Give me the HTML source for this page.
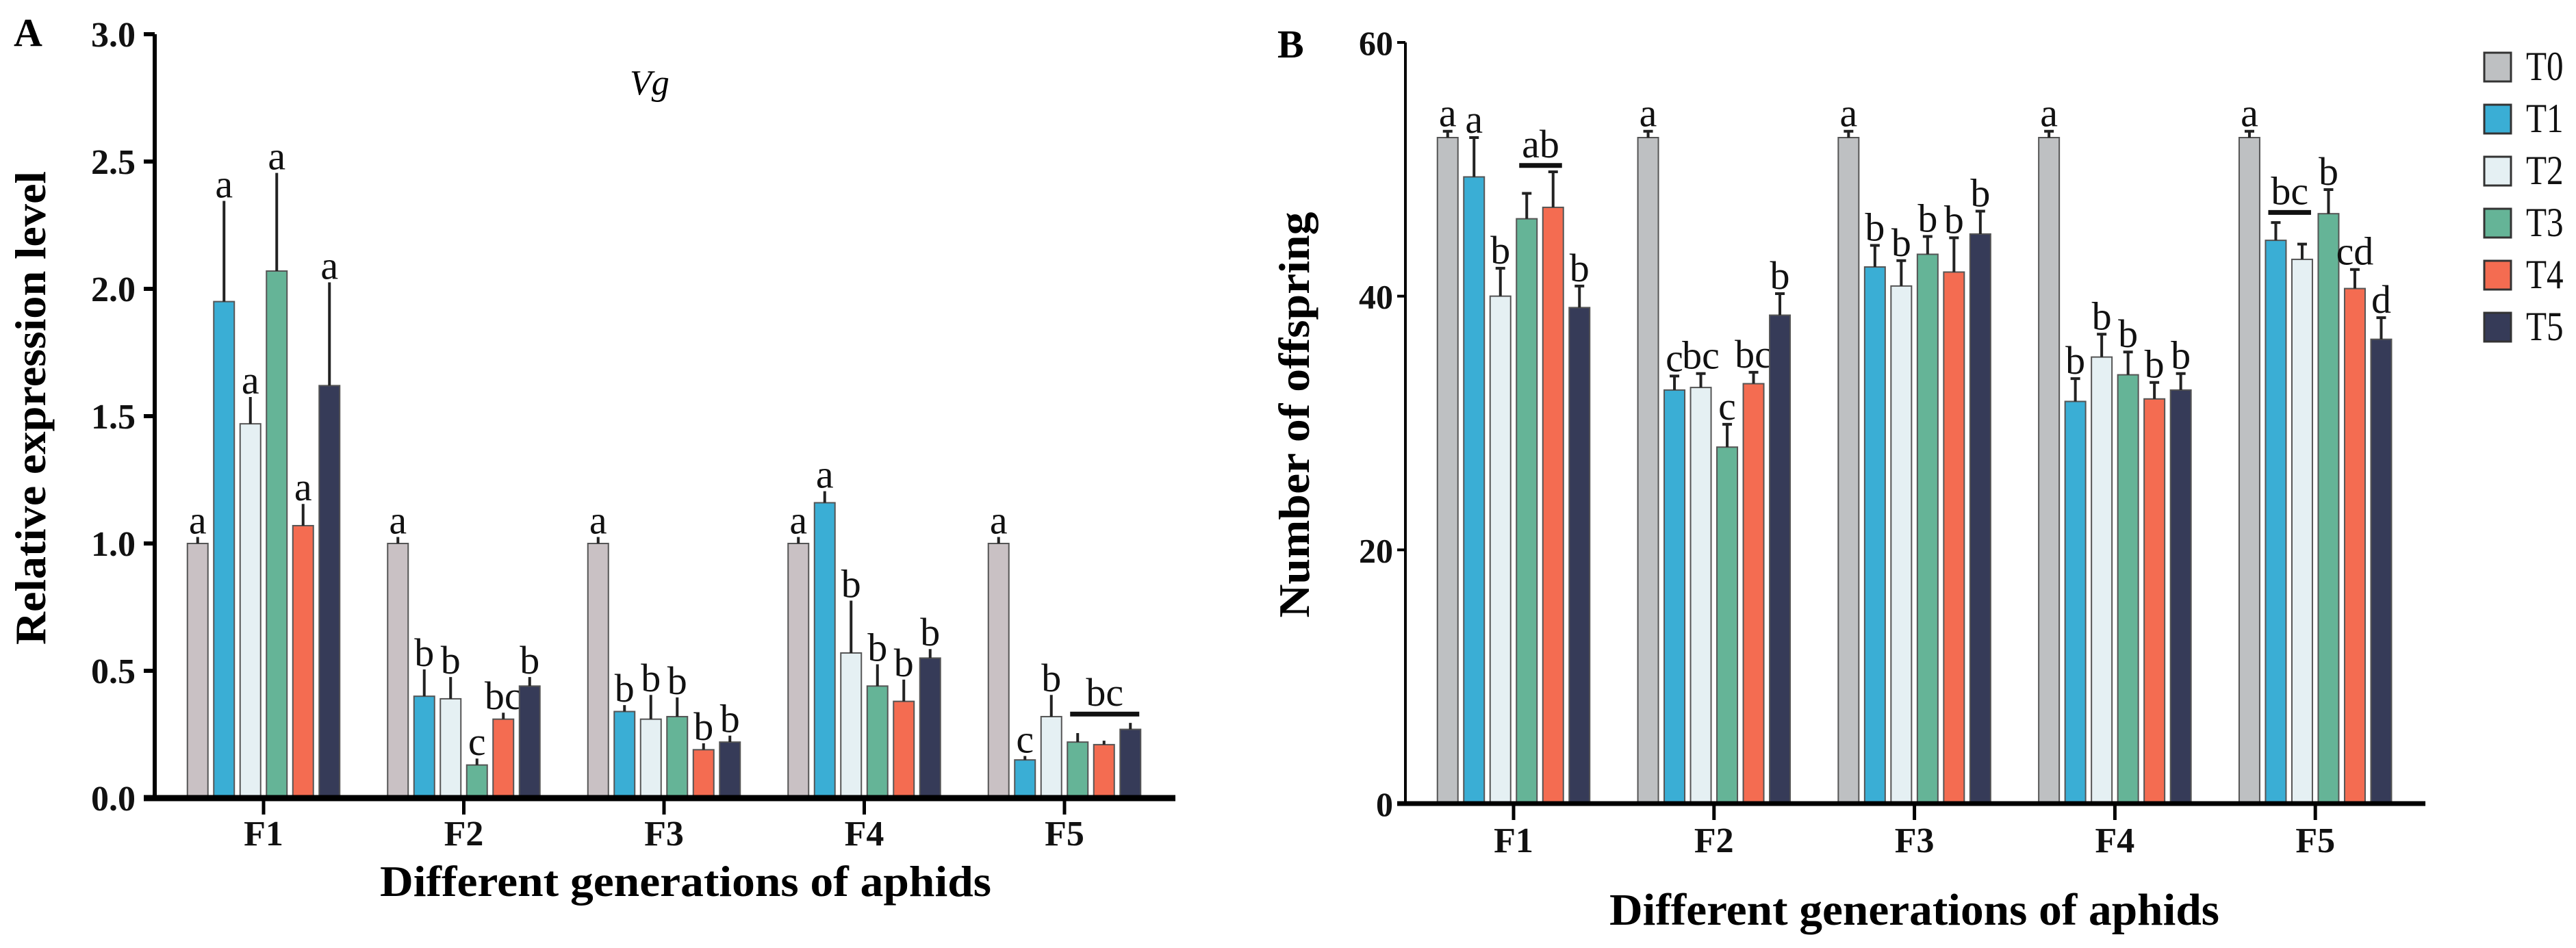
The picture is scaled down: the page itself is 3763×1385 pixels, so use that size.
<!DOCTYPE html>
<html><head><meta charset="utf-8"><style>
html,body{margin:0;padding:0;background:#fff;}
svg{display:block;}
text{font-family:"Liberation Serif",serif;}
</style></head><body>
<svg id="fig" width="3763" height="1385" viewBox="0 0 3763 1385" xmlns="http://www.w3.org/2000/svg">
<g id="pa"></g>
<g id="pb"></g>
</svg>
<script>
const generations = ["F1","F2","F3","F4","F5"];
const treatments = ["T0","T1","T2","T3","T4","T5"];
const colorsA = ["#c9c1c4","#3aaed5","#e5f0f3","#65b497","#f46c51","#363b58"];
const colorsB = ["#bec0c2","#3aaed5","#e5f0f3","#65b497","#f46c51","#363b58"];
// Panel A: Vg relative expression
const aMeans = [
  [1.0,1.95,1.47,2.07,1.07,1.62],
  [1.0,0.40,0.39,0.13,0.31,0.44],
  [1.0,0.34,0.31,0.32,0.19,0.22],
  [1.0,1.16,0.57,0.44,0.38,0.55],
  [1.0,0.15,0.32,0.22,0.21,0.27]
];
const aErrTops = [
  [1.02,2.34,1.57,2.45,1.15,2.02],
  [1.02,0.50,0.47,0.15,0.33,0.47],
  [1.02,0.36,0.40,0.39,0.21,0.24],
  [1.02,1.20,0.77,0.52,0.46,0.58],
  [1.02,0.16,0.40,0.25,0.22,0.29]
];
const aLetters = [
  ["a","a","a","a","a","a"],
  ["a","b","b","c","bc","b"],
  ["a","b","b","b","b","b"],
  ["a","a","b","b","b","b"],
  ["a","c","b","","",""]
];
const aYTicks = [0.0,0.5,1.0,1.5,2.0,2.5,3.0];
const aYTickLabels = ["0.0","0.5","1.0","1.5","2.0","2.5","3.0"];
const aBrackets = [[4,3,5,0.33,"bc"]];
// Panel B: offspring
const bMeans = [
  [52.5,49.4,40.0,46.1,47.0,39.1],
  [52.5,32.6,32.8,28.1,33.1,38.5],
  [52.5,42.3,40.8,43.3,41.9,44.9],
  [52.5,31.7,35.2,33.8,31.9,32.6],
  [52.5,44.4,42.9,46.5,40.6,36.6]
];
const bErrTops = [
  [53.0,52.5,42.2,48.1,49.8,40.8],
  [53.0,33.7,33.9,29.9,34.0,40.2],
  [53.0,44.0,42.8,44.7,44.6,46.7],
  [53.0,33.5,37.0,35.6,33.2,33.9],
  [53.0,45.8,44.1,48.4,42.1,38.3]
];
const bLetters = [
  ["a","a","b","","","b"],
  ["a","c","bc","c","bc","b"],
  ["a","b","b","b","b","b"],
  ["a","b","b","b","b","b"],
  ["a","","","b","cd","d"]
];
const bYTicks = [0,20,40,60];
const bYTickLabels = ["0","20","40","60"];
const bBrackets = [[0,3,4,50.3,"ab"],[4,1,2,46.6,"bc"]];

const NS="http://www.w3.org/2000/svg";
function mk(parent,tag,attrs,txt){const e=document.createElementNS(NS,tag);for(const k in attrs)e.setAttribute(k,attrs[k]);if(txt!==undefined)e.textContent=txt;parent.appendChild(e);return e;}

function drawPanel(g,cfg){
  const y=v=>cfg.y0-(v-cfg.vmin)/(cfg.vmax-cfg.vmin)*(cfg.y0-cfg.yTop);
  const gx=i=>cfg.gx0+i*cfg.gstep;
  const bx=(i,j)=>gx(i)+(j-2.5)*cfg.bstep;
  cfg.means.forEach((row,i)=>row.forEach((v,j)=>{
    const cx=bx(i,j);
    const r=mk(g,"rect",{x:cx-cfg.bw/2,y:y(v),width:cfg.bw,height:cfg.y0-y(v),fill:cfg.colors[j],stroke:"#555","stroke-width":2});
    
    
    const et=cfg.errs[i][j];
    const e=mk(g,"path",{d:`M${cx} ${y(v)} V${y(et)} M${cx-cfg.cap} ${y(et)} H${cx+cfg.cap}`,stroke:"#222","stroke-width":4,fill:"none"});
    
    
    const L=cfg.letters[i][j];
    if(L){const t=mk(g,"text",{x:cx,y:y(et)-7,"text-anchor":"middle","font-size":cfg.lfs,fill:"#111"},L);
      
      }
  }));
  cfg.brackets.forEach(b=>{
    const x1=bx(b[0],b[1])-cfg.bw/2+4,x2=bx(b[0],b[2])+cfg.bw/2-2,yy=y(b[3]);
    const l=mk(g,"line",{x1:x1,x2:x2,y1:yy,y2:yy,stroke:"#111","stroke-width":7});
    
    
    const t=mk(g,"text",{x:(x1+x2)/2,y:yy-12,"text-anchor":"middle","font-size":cfg.lfs,fill:"#111"},b[4]);
    
    
  });
  const ya=mk(g,"line",{x1:cfg.ax,x2:cfg.ax,y1:cfg.yTop,y2:cfg.y0,stroke:"#000","stroke-width":cfg.yw});
  
  
  const xa=mk(g,"line",{x1:cfg.ax-cfg.tl,x2:cfg.xEnd,y1:cfg.y0,y2:cfg.y0,stroke:"#000","stroke-width":cfg.xw});
  
  
  cfg.ticks.forEach((v,k)=>{
    mk(g,"line",{x1:cfg.ax-cfg.tl,x2:cfg.ax,y1:y(v),y2:y(v),stroke:"#000","stroke-width":cfg.yw});
    const tx=cfg.ax-cfg.tl-cfg.tgap;
    const t=mk(g,"text",{x:tx,y:y(v)+18,"text-anchor":"end","font-size":cfg.tfs,"font-weight":"bold",fill:"#111"},cfg.tickLabels[k]);
    
    
  });
  generations.forEach((gn,i)=>{
    mk(g,"line",{x1:gx(i),x2:gx(i),y1:cfg.y0,y2:cfg.y0+24,stroke:"#000","stroke-width":5});
    const t=mk(g,"text",{x:gx(i),y:cfg.xlY,"text-anchor":"middle","font-size":cfg.xfs,"font-weight":"bold",fill:"#111"},gn);
    
    
  });
}

drawPanel(document.getElementById('pa'),{vmin:0,vmax:3,y0:1166,yTop:50,gx0:385,gstep:292.5,bstep:38.5,bw:30,cap:2,
  means:aMeans,errs:aErrTops,letters:aLetters,colors:colorsA,brackets:aBrackets,ax:226,xEnd:1717,yw:6,xw:9,tl:16,tgap:12,
  ticks:aYTicks,tickLabels:aYTickLabels,tfs:52,xfs:52,xlY:1235,lfs:58});
drawPanel(document.getElementById('pb'),{vmin:0,vmax:60,y0:1174,yTop:62,gx0:2211,gstep:292.8,bstep:38.5,bw:30,cap:7,
  means:bMeans,errs:bErrTops,letters:bLetters,colors:colorsB,brackets:bBrackets,ax:2053,xEnd:3543,yw:4,xw:7,tl:12,tgap:6,
  ticks:bYTicks,tickLabels:bYTickLabels,tfs:50,xfs:52,xlY:1245,lfs:58});

const fig=document.getElementById('fig');
function label(attrs,txt,name){const t=mk(fig,"text",attrs,txt);return t;}
label({x:20,y:67,"font-size":58,"font-weight":"bold"},"A","panel-a-label");
label({x:1866,y:84,"font-size":58,"font-weight":"bold"},"B","panel-b-label");
label({x:920,y:138,"font-size":52,"font-style":"italic"},"Vg","gene-title");
label({x:0,y:0,"font-size":64,"font-weight":"bold",textLength:692,lengthAdjust:"spacingAndGlyphs","text-anchor":"middle",transform:"translate(66 596) rotate(-90)"},"Relative expression level","y-axis-title-a");
label({x:0,y:0,"font-size":64,"font-weight":"bold",textLength:593,lengthAdjust:"spacingAndGlyphs","text-anchor":"middle",transform:"translate(1912 606) rotate(-90)"},"Number of offspring","y-axis-title-b");
label({x:555,y:1309,"font-size":64,"font-weight":"bold",textLength:893,lengthAdjust:"spacingAndGlyphs"},"Different generations of aphids","x-axis-title-a");
label({x:2351,y:1351,"font-size":66,"font-weight":"bold",textLength:891,lengthAdjust:"spacingAndGlyphs"},"Different generations of aphids","x-axis-title-b");
const lg=mk(fig,"g",{});


treatments.forEach((t,j)=>{
  const yy=77+j*76;
  const r=mk(lg,"rect",{x:3629,y:yy,width:39,height:42,fill:colorsB[j],stroke:"#333","stroke-width":3});
  
  
  const tx=mk(lg,"text",{x:3690,y:yy+40,"font-size":60,fill:"#111",transform:`translate(3690 0) scale(0.82 1) translate(-3690 0)`},t);
  
  
});
</script>
</body></html>
